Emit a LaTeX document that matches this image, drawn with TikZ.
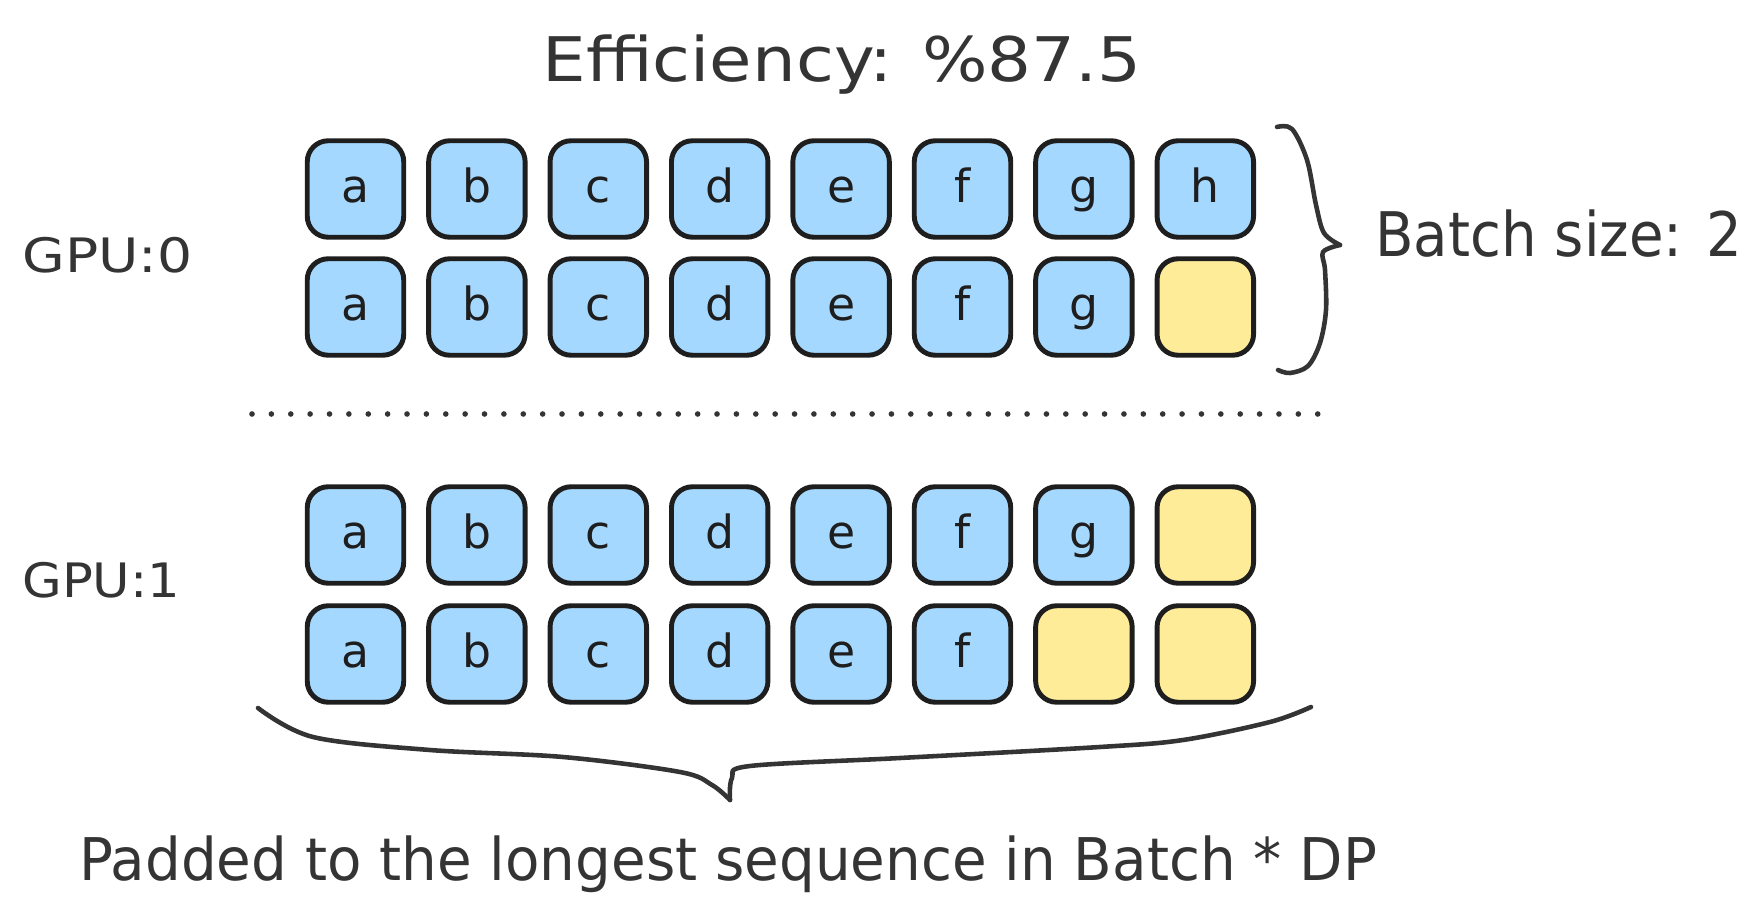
\documentclass[tikz,border=0pt]{standalone}
\usepackage{fontspec}
\usepackage{graphicx}
\setmainfont{DejaVu Sans}
\definecolor{ink}{HTML}{1E1E1E}
\definecolor{softink}{HTML}{343434}
\definecolor{tokblue}{HTML}{A5D8FF}
\definecolor{padyel}{HTML}{FFEC99}
\newcommand{\fitw}[2]{\resizebox{#1}{\height}{#2}}
\def\padmark{-}
\tikzset{
  tok/.style={draw=ink, line width=2.8pt, rounded corners=0.42cm, minimum width=1.93cm, minimum height=1.93cm,
     fill=tokblue, text=ink, font=\fontsize{26}{26}\selectfont, text height=0.56cm, text depth=0pt, inner sep=0pt},
  padbox/.style={tok, fill=padyel},
  lbl/.style={text=softink, inner sep=0pt},
  bracestyle/.style={draw=softink, line width=2.6pt, line cap=round, line join=round},
}
\begin{document}
\begin{tikzpicture}[x=0.02cm, y=-0.02cm]
\useasboundingbox (0,0) rectangle (1764,918);
% title
\node[lbl, font=\fontsize{35}{35}\selectfont, anchor=base] (title) at (842,82) {\fitw{11.98cm}{Efficiency: \%87.5}};
% rows of tokens
\foreach \r/\yy/\items in {1/189/{a,b,c,d,e,f,g,h}, 2/307/{a,b,c,d,e,f,g,-}, 3/535/{a,b,c,d,e,f,g,-}, 4/654/{a,b,c,d,e,f,-,-}} {
  \foreach \t [count=\c] in \items {
    \pgfmathsetmacro{\xx}{355.5+121.4*(\c-1)}
    \ifx\t\padmark
      \node[padbox] (r\r c\c) at (\xx,\yy) {};
    \else
      \node[tok] (r\r c\c) at (\xx,\yy) {\t};
    \fi
  }
}
% GPU labels
\node[lbl, font=\fontsize{27}{27}\selectfont, anchor=base west] (gpu0) at (22,273) {\fitw{3.4cm}{GPU:0}};
\node[lbl, font=\fontsize{27}{27}\selectfont, anchor=base west] (gpu1) at (22,597) {\fitw{3.16cm}{GPU:1}};
% separator
\coordinate (sepL) at (252,414);
\coordinate (sepR) at (1318,414);
\draw[softink, line width=3.2pt, line cap=round, dash pattern=on 0pt off 0.3876cm] (sepL) -- (sepR);
% right brace
\coordinate (rbTop) at (1277,127);
\coordinate (rbTip) at (1340,245);
\coordinate (rbBot) at (1278,370);
\draw[bracestyle] plot[smooth, tension=0.55] coordinates {(rbTop) (1292,129) (1307,160) (1316,205) (1324,233) (rbTip)};
\draw[bracestyle] plot[smooth, tension=0.55] coordinates {(rbTip) (1323,252) (1325,270) (1326,310) (1320,343) (1308,366) (1290,373) (rbBot)};
\node[lbl, font=\fontsize{35}{35}\selectfont, anchor=base west] (bs) at (1375,257) {\fitw{7.34cm}{Batch size: 2}};
% bottom brace
\coordinate (bbL) at (258,708);
\coordinate (bbTip) at (730,800);
\coordinate (bbR) at (1311,707);
\draw[bracestyle] plot[smooth, tension=0.55] coordinates {(bbL) (313,737) (430,750) (563,757) (680,772) (712,785) (bbTip)};
\draw[bracestyle] plot[smooth, tension=0.55] coordinates {(bbTip) (732,778) (750,766) (900,758) (1100,747) (1183,740) (1270,722) (bbR)};
\node[lbl, font=\fontsize{33.5}{33.5}\selectfont, anchor=base west] (foot) at (79,880) {\fitw{25.96cm}{Padded to the longest sequence in Batch * DP}};
\end{tikzpicture}
\end{document}
